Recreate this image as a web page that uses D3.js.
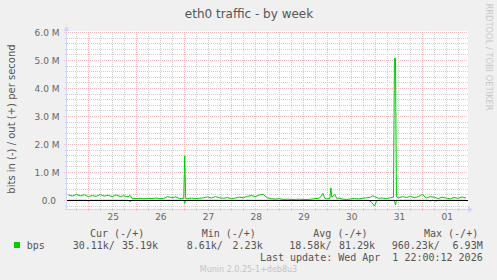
<!DOCTYPE html>
<html>
<head>
<meta charset="utf-8">
<script src="https://cdn.jsdelivr.net/npm/d3@7"></script>
<style>
  html, body { margin: 0; padding: 0; background: #f0f0f0; }
  svg { display: block; }
  text { font-family: "DejaVu Sans", sans-serif; }
  .mono { font-family: "DejaVu Sans Mono", monospace; white-space: pre; }
</style>
</head>
<body>
<svg id="chart" width="497" height="280"></svg>
<script>
// hours since 2026-03-24 14:00 UTC, value in Mbit/s
const outPts = [
  [0,0.18],[2,0.14],[4,0.20],[6,0.15],[8,0.19],[10,0.12],[12,0.16],[14,0.13],[16,0.19],[18,0.14],
  [20,0.17],[22,0.12],[24,0.18],[26,0.13],[28,0.15],[30,0.11],[31,0.17],[32,0.05],[34,0.05],[36,0.06],
  [38,0.04],[40,0.06],[42,0.05],[44,0.07],[46,0.05],[48,0.06],[50,0.12],[52,0.08],[54,0.11],[56,0.05],
  [58,0.06],[58.5,1.58],[59,0.05],[60,0.05],[62,0.07],[64,0.05],[66,0.06],[68,0.08],[70,0.11],[72,0.07],
  [74,0.12],[76,0.08],[78,0.06],[80,0.09],[82,0.05],[84,0.07],[86,0.10],[88,0.08],[90,0.13],[92,0.16],
  [94,0.12],[96,0.18],[98,0.20],[100,0.08],[102,0.05],[104,0.03],[106,0.05],[108,0.02],[110,0.03],[112,0.02],
  [114,0.02],[116,0.03],[118,0.02],[120,0.02],[122,0.03],[124,0.05],[126,0.06],[127,0.12],[128,0.24],[129,0.06],
  [130,0.04],[131.5,0.05],[132,0.43],[132.5,0.10],[134,0.20],[135,0.05],[136,0.07],[138,0.03],[140,0.02],[142,0.04],
  [144,0.05],[146,0.04],[148,0.06],[150,0.08],[152,0.10],[153,0.15],[154,0.12],[156,0.06],[158,0.07],[160,0.05],
  [162,0.08],[163.5,0.10],[164,5.06],[164.5,5.06],[165,0.12],[166,0.08],[168,0.12],[170,0.09],[172,0.13],[174,0.08],
  [176,0.12],[178,0.20],[180,0.07],[182,0.12],[184,0.10],[186,0.05],[188,0.10],[190,0.07],[192,0.04],[194,0.09],
  [196,0.06],[198,0.11],[200,0.07]
];
const inPts = [
  [0,-0.01],[9,-0.01],[10,-0.04],[11,-0.01],[30,-0.01],[31,-0.05],[32,-0.01],[58,-0.01],[58.5,-0.12],[59,-0.01],
  [151,-0.01],[152.5,-0.08],[154,-0.22],[155,-0.03],[156,-0.01],[164,-0.01],[164.5,-0.18],[165,-0.01],
  [181,-0.01],[182,-0.04],[183,-0.01],[185,-0.04],[186,-0.01],[200,-0.01]
];
const legendHeads = ["Cur (-/+)", "Min (-/+)", "Avg (-/+)", "Max (-/+)"];
const legendIn  = ["30.11k/", "8.61k/", "18.58k/", "960.23k/"];
const legendOut = ["35.19k", "2.23k", "81.29k", "6.93M"];
const yMajor = [0, 1, 2, 3, 4, 5, 6];

const t0 = Date.UTC(2026, 2, 24, 14);
const toDate = h => new Date(t0 + h * 3600e3);

const svg = d3.select("#chart");
const plot = { left: 67, right: 468, top: 32, bottom: 208.5 };

svg.append("rect").attr("width", 497).attr("height", 280).attr("fill", "#f0f0f0");
svg.append("rect")
  .attr("x", plot.left).attr("y", plot.top - 1)
  .attr("width", plot.right - plot.left).attr("height", plot.bottom - plot.top + 1)
  .attr("fill", "#fff");

const x = d3.scaleUtc()
  .domain([new Date(Date.UTC(2026, 2, 25)), new Date(Date.UTC(2026, 3, 1))])
  .range([88.3, 422.3]);
const y = d3.scaleLinear().domain([0, 6]).range([200, 32]);

const tStart = x.invert(plot.left), tEnd = x.invert(plot.right);
const minorX = d3.utcHour.every(6).range(tStart, tEnd).filter(d => d.getUTCHours() !== 0);
const majorX = d3.utcDay.range(tStart, tEnd);
const minorY = d3.range(-0.2, 6.01, 0.2).filter(v => Math.abs(v - Math.round(v)) > 1e-6);

const grid = svg.append("g").attr("shape-rendering", "crispEdges");
const px = v => Math.round(v) + 0.5;

// minor grid
grid.selectAll("line.minx").data(minorX).join("line")
  .attr("x1", d => px(x(d))).attr("x2", d => px(x(d)))
  .attr("y1", plot.top).attr("y2", plot.bottom + 2)
  .attr("stroke", "#cfcfcf").attr("stroke-dasharray", "1,1");
grid.selectAll("line.miny").data(minorY).join("line")
  .attr("x1", plot.left - 2).attr("x2", plot.right)
  .attr("y1", d => px(y(d))).attr("y2", d => px(y(d)))
  .attr("stroke", "#cfcfcf").attr("stroke-dasharray", "1,1");
// major grid
grid.selectAll("line.majx").data(majorX).join("line")
  .attr("x1", d => px(x(d))).attr("x2", d => px(x(d)))
  .attr("y1", plot.top).attr("y2", plot.bottom + 3)
  .attr("stroke", "#fab9b9").attr("stroke-dasharray", "1,1");
grid.selectAll("line.majy").data(yMajor).join("line")
  .attr("x1", plot.left - 3).attr("x2", plot.right)
  .attr("y1", d => px(y(d))).attr("y2", d => px(y(d)))
  .attr("stroke", "#fab9b9").attr("stroke-dasharray", "1,1");

// tick labels
svg.append("g").selectAll("text").data(yMajor).join("text")
  .attr("x", d => d === 0 ? 56 : 59.5).attr("y", d => y(d) + 3.6)
  .attr("text-anchor", "end").attr("font-size", 9).attr("fill", "#666")
  .text(d => d === 0 ? "0.0" : d3.format(".1f")(d) + " M");

const days = majorX.map(d => new Date(+d + 12 * 3600e3)).filter(d => x(d) < plot.right);
svg.append("g").selectAll("text").data(days).join("text")
  .attr("x", d => x(d) + 1).attr("y", 220)
  .attr("text-anchor", "middle").attr("font-size", 9).attr("fill", "#666")
  .text(d3.utcFormat("%d"));

// axes
svg.append("line").attr("x1", plot.left - 0.5).attr("x2", plot.left - 0.5)
  .attr("y1", plot.bottom).attr("y2", plot.top - 3)
  .attr("stroke", "#cfd6f8").attr("shape-rendering", "crispEdges");
svg.append("line").attr("x1", plot.left - 2).attr("x2", plot.right + 1)
  .attr("y1", px(plot.bottom)).attr("y2", px(plot.bottom))
  .attr("stroke", "#cfd6f8").attr("shape-rendering", "crispEdges");
svg.append("path").attr("d", `M${plot.left - 3.5},${plot.top - 1}L${plot.left + 2.5},${plot.top - 1}L${plot.left - 0.5},${plot.top - 6}Z`)
  .attr("fill", "#cfd6f8");
svg.append("path").attr("d", `M${plot.right},${px(plot.bottom) - 3}L${plot.right},${px(plot.bottom) + 3}L${plot.right + 5},${px(plot.bottom)}Z`)
  .attr("fill", "#cfd6f8");

// data
const line = d3.line().x(d => x(toDate(d[0]))).y(d => y(d[1]));
svg.append("path").datum(outPts).attr("d", line)
  .attr("fill", "none").attr("stroke", "#00cc00").attr("stroke-width", 1);
svg.append("path").datum(inPts).attr("d", line)
  .attr("fill", "none").attr("stroke", "#00cc00").attr("stroke-width", 1);
svg.append("line").attr("x1", plot.left).attr("x2", plot.right)
  .attr("y1", px(y(0))).attr("y2", px(y(0)))
  .attr("stroke", "#000").attr("stroke-width", 1).attr("shape-rendering", "crispEdges");

// titles
svg.append("text").attr("x", 249).attr("y", 18.3).attr("text-anchor", "middle")
  .attr("font-size", 12).attr("fill", "#555").text("eth0 traffic - by week");
svg.append("text").attr("transform", "translate(14.5,119) rotate(-90)")
  .attr("text-anchor", "middle").attr("font-size", 10).attr("fill", "#555")
  .text("bits in (-) / out (+) per second");
svg.append("text").attr("transform", "translate(485.5,57) rotate(90)")
  .attr("text-anchor", "middle").attr("font-size", 8.3).attr("fill", "#c8c8c8")
  .text("RRDTOOL / TOBI OETIKER");

// legend
const colX = [90, 201.7, 313.3, 424];
const inX = [72.7, 186.7, 289.3, 391.7];
const outX = [158, 262.7, 375, 482.7];
const leg = svg.append("g").attr("font-size", 10).attr("fill", "#555");
leg.selectAll("text.head").data(legendHeads).join("text").attr("class", "mono")
  .attr("x", (d, i) => colX[i]).attr("y", 236.5).text(d => d);
leg.selectAll("text.vin").data(legendIn).join("text").attr("class", "mono")
  .attr("x", (d, i) => inX[i]).attr("y", 249).text(d => d);
leg.selectAll("text.vout").data(legendOut).join("text").attr("class", "mono")
  .attr("x", (d, i) => outX[i]).attr("y", 249).attr("text-anchor", "end").text(d => d);
leg.append("rect").attr("x", 14).attr("y", 242).attr("width", 6).attr("height", 6).attr("fill", "#00cc00");
leg.append("text").attr("class", "mono").attr("x", 26.7).attr("y", 249).text("bps");
leg.append("text").attr("class", "mono").attr("x", 482.7).attr("y", 260.7)
  .attr("text-anchor", "end").text("Last update: Wed Apr  1 22:00:12 2026");
svg.append("text").attr("x", 248.5).attr("y", 271.7).attr("text-anchor", "middle")
  .attr("font-size", 8).attr("fill", "#c4c4c4").text("Munin 2.0.25-1+deb8u3");
</script>
</body>
</html>
